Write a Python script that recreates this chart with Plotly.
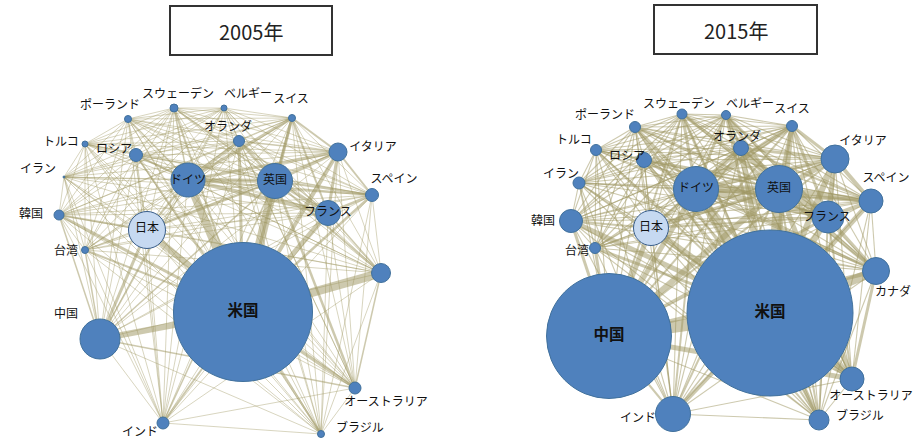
import plotly.graph_objects as go
from itertools import combinations

# ---------------- data ----------------
countries = ["米国", "中国", "ドイツ", "英国", "日本", "フランス", "イタリア", "スペイン",
             "カナダ", "オーストラリア", "ブラジル", "インド", "オランダ", "ロシア", "スイス",
             "ベルギー", "スウェーデン", "ポーランド", "トルコ", "イラン", "韓国", "台湾"]

# 2005 layout (node centre, node diameter)
x05 = [243, 100, 188, 275, 147, 328, 338, 372, 381, 355, 321, 163, 239, 136, 292, 224, 174, 128, 85, 64, 59, 85]
y05 = [312, 339, 180, 181, 230, 213, 152, 195, 273, 388, 434, 423, 141, 155, 118, 108, 108, 119, 144, 177, 215, 250]
s05 = [139, 40, 34, 35, 37, 25, 18, 13, 19, 12, 7, 12, 11, 13, 7, 6, 8, 7, 6, 2, 10, 7]

# 2015 layout
x15 = [770, 609, 696, 779, 651, 828, 835, 871, 876, 852, 819, 673, 741, 644, 792, 726, 682, 635, 596, 579, 571, 595]
y15 = [313, 336, 189, 189, 228, 217, 159, 201, 271, 379, 420, 414, 148, 160, 126, 115, 114, 127, 150, 183, 221, 248]
s15 = [166, 125, 45, 47, 35, 32, 28, 24, 27, 24, 20, 35, 15, 15, 11, 9, 10, 11, 11, 12, 23, 11]

# label positions (text centre); "" = no label
lab05 = ["米国", "中国", "ドイツ", "英国", "日本", "フランス", "イタリア", "スペイン", "",
         "オーストラリア", "ブラジル", "インド", "オランダ", "ロシア", "スイス", "ベルギー",
         "スウェーデン", "ポーランド", "トルコ", "イラン", "韓国", "台湾"]
lx05 = [243, 66, 188, 275, 147, 328, 373, 394, 0, 386, 360, 140, 228, 114, 291, 248, 178, 110, 61, 38, 31, 66]
ly05 = [312, 315, 181, 181, 229, 213, 148, 180, 0, 403, 429, 433, 128, 150, 100, 95, 95, 106, 143, 170, 215, 252]

lab15 = countries
lx15 = [770, 609, 696, 779, 651, 827, 863, 886, 893, 871, 860, 638, 737, 627, 792, 750, 679, 605, 574, 561, 543, 577]
ly15 = [313, 336, 189, 189, 228, 218, 142, 179, 293, 397, 417, 419, 138, 157, 110, 105, 105, 116, 141, 175, 222, 252]

# co-authorship link strength (relative), strong links; every other pair is a weak link
links05 = {
    ("米国", "英国"): 9, ("米国", "ドイツ"): 8, ("米国", "カナダ"): 9, ("米国", "中国"): 6,
    ("米国", "日本"): 6, ("米国", "フランス"): 5, ("米国", "イタリア"): 4, ("米国", "オーストラリア"): 3,
    ("米国", "オランダ"): 3, ("米国", "スイス"): 3, ("米国", "韓国"): 3, ("米国", "スペイン"): 2.5,
    ("米国", "インド"): 2, ("米国", "ブラジル"): 2, ("米国", "台湾"): 2, ("米国", "スウェーデン"): 2,
    ("米国", "ロシア"): 2, ("ドイツ", "英国"): 4, ("ドイツ", "フランス"): 4, ("英国", "フランス"): 3,
    ("ドイツ", "スイス"): 3, ("ドイツ", "オランダ"): 3, ("英国", "オランダ"): 2.5, ("英国", "イタリア"): 3,
    ("フランス", "イタリア"): 3, ("ドイツ", "イタリア"): 3, ("英国", "スイス"): 2.5, ("フランス", "スイス"): 2,
    ("フランス", "スペイン"): 2.5, ("英国", "スペイン"): 2, ("ドイツ", "スペイン"): 2, ("イタリア", "スペイン"): 2,
    ("日本", "中国"): 3, ("日本", "韓国"): 2, ("中国", "台湾"): 1.5, ("中国", "韓国"): 1.5,
    ("英国", "オーストラリア"): 2.5, ("英国", "カナダ"): 2, ("ドイツ", "ロシア"): 2, ("ドイツ", "ポーランド"): 1.5,
    ("ドイツ", "スウェーデン"): 1.5, ("英国", "スウェーデン"): 1.5, ("日本", "ドイツ"): 2, ("日本", "英国"): 2,
    ("中国", "英国"): 1.5, ("中国", "ドイツ"): 1.5, ("カナダ", "フランス"): 1.5, ("オーストラリア", "中国"): 1.5,
    ("イタリア", "オランダ"): 1.5, ("フランス", "オランダ"): 1.5, ("英国", "インド"): 1.5, ("イタリア", "スイス"): 2,
    ("オーストラリア", "カナダ"): 1.5,
}
weak05 = 0.8

links15 = {
    ("米国", "中国"): 12, ("米国", "英国"): 10, ("米国", "ドイツ"): 9, ("米国", "カナダ"): 9,
    ("米国", "フランス"): 6, ("米国", "イタリア"): 6, ("米国", "日本"): 6, ("米国", "オーストラリア"): 6,
    ("米国", "スペイン"): 5, ("米国", "韓国"): 5, ("米国", "オランダ"): 5, ("米国", "スイス"): 5,
    ("米国", "インド"): 4, ("米国", "ブラジル"): 4, ("米国", "スウェーデン"): 3, ("米国", "ベルギー"): 3,
    ("米国", "台湾"): 3, ("米国", "ロシア"): 3, ("米国", "ポーランド"): 2.5, ("米国", "トルコ"): 2,
    ("米国", "イラン"): 1.5, ("中国", "英国"): 6, ("中国", "ドイツ"): 5, ("中国", "日本"): 5,
    ("中国", "オーストラリア"): 5, ("中国", "カナダ"): 4, ("中国", "韓国"): 3, ("中国", "台湾"): 3,
    ("中国", "フランス"): 3, ("中国", "インド"): 2, ("中国", "イタリア"): 2, ("中国", "スウェーデン"): 2,
    ("中国", "オランダ"): 2, ("中国", "スイス"): 2, ("英国", "ドイツ"): 7, ("英国", "フランス"): 6,
    ("ドイツ", "フランス"): 6, ("英国", "イタリア"): 5, ("ドイツ", "イタリア"): 4, ("フランス", "イタリア"): 5,
    ("英国", "スペイン"): 5, ("ドイツ", "スペイン"): 4, ("フランス", "スペイン"): 4, ("イタリア", "スペイン"): 4,
    ("英国", "オランダ"): 5, ("ドイツ", "オランダ"): 5, ("ドイツ", "スイス"): 5, ("英国", "スイス"): 4,
    ("フランス", "スイス"): 3, ("英国", "オーストラリア"): 5, ("英国", "カナダ"): 4, ("フランス", "カナダ"): 3,
    ("ドイツ", "カナダ"): 3, ("オーストラリア", "カナダ"): 3, ("英国", "スウェーデン"): 3, ("ドイツ", "スウェーデン"): 3,
    ("英国", "ベルギー"): 3, ("ドイツ", "ベルギー"): 3, ("フランス", "ベルギー"): 3, ("オランダ", "ベルギー"): 3,
    ("ドイツ", "ポーランド"): 3, ("英国", "ポーランド"): 2, ("ドイツ", "ロシア"): 3, ("英国", "ロシア"): 2,
    ("フランス", "ロシア"): 2, ("日本", "ドイツ"): 3, ("日本", "英国"): 3, ("日本", "フランス"): 2,
    ("日本", "韓国"): 2, ("英国", "インド"): 2, ("インド", "ドイツ"): 2, ("インド", "フランス"): 1.5,
    ("ブラジル", "英国"): 2, ("ブラジル", "フランス"): 2, ("ブラジル", "ドイツ"): 2, ("オランダ", "イタリア"): 3,
    ("オランダ", "フランス"): 3, ("イタリア", "スイス"): 3, ("スペイン", "オランダ"): 2, ("オーストラリア", "ドイツ"): 3,
    ("オーストラリア", "フランス"): 2,
}
weak15 = 1.1

titles = ["2005年", "2015年"]

# ---------------- style ----------------
EDGE_COLOR = "rgba(160,152,100,0.52)"
NODE_COLOR = "#4f81bd"
JAPAN_COLOR = "#c6d9f1"
FONT = "Noto Sans CJK JP"

fig = go.Figure()


def add_network(xs, ys, sizes, links, weak, labels, lxs, lys, big_labels):
    idx = {c: i for i, c in enumerate(countries)}
    weights = {}
    for a, b in combinations(countries, 2):
        w = links.get((a, b), links.get((b, a), weak))
        weights[(a, b)] = w
    groups = {}
    for (a, b), w in weights.items():
        groups.setdefault(w, []).append((a, b))
    for w in sorted(groups):
        ex, ey = [], []
        for a, b in groups[w]:
            ex += [xs[idx[a]], xs[idx[b]], None]
            ey += [ys[idx[a]], ys[idx[b]], None]
        fig.add_trace(go.Scatter(x=ex, y=ey, mode="lines", hoverinfo="skip",
                                 line=dict(color=EDGE_COLOR, width=w), showlegend=False))
    colors = [JAPAN_COLOR if c == "日本" else NODE_COLOR for c in countries]
    lcolors = ["#385d8a" if c == "日本" else "#41719c" for c in countries]
    fig.add_trace(go.Scatter(x=xs, y=ys, mode="markers", text=countries, hoverinfo="text",
                             marker=dict(size=sizes, color=colors, opacity=1,
                                         line=dict(color=lcolors, width=1)),
                             showlegend=False))
    nx, ny, nt, bx, by, bt = [], [], [], [], [], []
    for t, lx, ly in zip(labels, lxs, lys):
        if not t:
            continue
        if t in big_labels:
            bx.append(lx); by.append(ly); bt.append("<b>" + t + "</b>")
        else:
            nx.append(lx); ny.append(ly); nt.append(t)
    fig.add_trace(go.Scatter(x=nx, y=ny, mode="text", text=nt, textposition="middle center",
                             textfont=dict(family=FONT, size=12, color="#111111"),
                             hoverinfo="skip", showlegend=False, cliponaxis=False))
    fig.add_trace(go.Scatter(x=bx, y=by, mode="text", text=bt, textposition="middle center",
                             textfont=dict(family=FONT, size=15.5, color="#111111"),
                             hoverinfo="skip", showlegend=False, cliponaxis=False))


add_network(x05, y05, s05, links05, weak05, lab05, lx05, ly05, ["米国"])
add_network(x15, y15, s15, links15, weak15, lab15, lx15, ly15, ["米国", "中国"])

# title boxes
for (x0, x1, y0, y1), t in zip([(170, 332, 6, 55), (654, 817, 5, 54)], titles):
    fig.add_shape(type="rect", x0=x0, x1=x1, y0=y0, y1=y1, xref="x", yref="y",
                  line=dict(color="#333333", width=2), fillcolor="white")
    fig.add_annotation(x=(x0 + x1) / 2, y=(y0 + y1) / 2 + 1, text=t, showarrow=False,
                       xref="x", yref="y", font=dict(family=FONT, size=20, color="#222222"))

fig.update_layout(
    width=913, height=439, margin=dict(l=0, r=0, t=0, b=0),
    paper_bgcolor="white", plot_bgcolor="white",
    xaxis=dict(range=[0, 913], visible=False, fixedrange=True),
    yaxis=dict(range=[439, 0], visible=False, fixedrange=True),
)

fig.write_html("out.html", config={"displayModeBar": False},
               post_script="document.body.style.margin='0';")
